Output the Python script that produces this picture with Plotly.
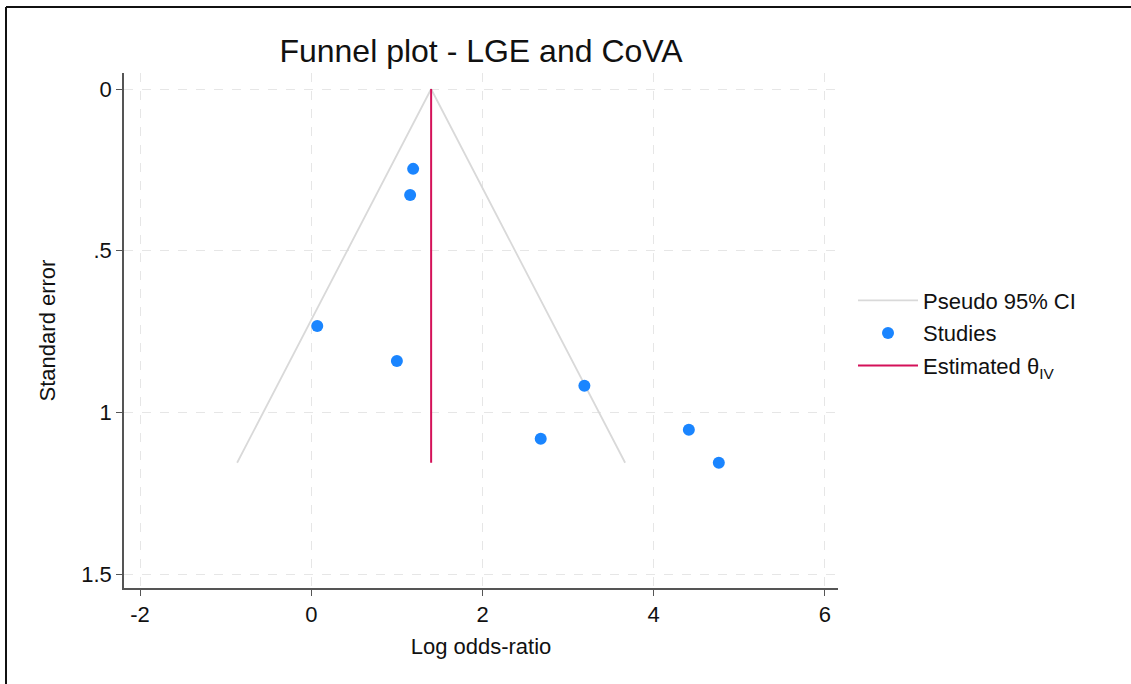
import plotly.graph_objects as go

# Data
study_logor = [1.19, 1.155, 0.07, 1.00, 3.19, 2.68, 4.41, 4.76]
study_se = [0.247, 0.328, 0.733, 0.841, 0.918, 1.082, 1.054, 1.156]
theta_iv = 1.40
se_max = 1.156
ci_se = [se_max, 0.0, se_max]
ci_x = [theta_iv - 1.96 * se_max, theta_iv, theta_iv + 1.96 * se_max]

x_ticks = [-2, 0, 2, 4, 6]
x_labels = ["-2", "0", "2", "4", "6"]
y_ticks = [0, 0.5, 1, 1.5]
y_labels = ["0", ".5", "1", "1.5"]

font = "Liberation Sans, Arial, Helvetica, sans-serif"

W, H = 1131, 684
ML, MR, MT, MB = 124, 293, 73, 96
PW, PH = W - ML - MR, H - MT - MB


def px_x(px):
    return (px - ML) / PW


def px_y(py):
    return (H - MB - py) / PH


fig = go.Figure()
fig.add_trace(go.Scatter(
    x=ci_x, y=ci_se, mode="lines", name="Pseudo 95% CI", legendgroup="a",
    line=dict(color="#d9d9d9", width=1.8),
))
fig.add_trace(go.Scatter(
    x=study_logor, y=study_se, mode="markers", name="Studies", legendgroup="b",
    marker=dict(color="#1a85ff", size=12, line=dict(width=0)),
))
fig.add_trace(go.Scatter(
    x=[theta_iv, theta_iv], y=[0, se_max], mode="lines", legendgroup="c",
    name="Estimated θ<sub>IV</sub>",
    line=dict(color="#d41159", width=2),
))

axis_common = dict(
    showline=True, linecolor="#555555", linewidth=1.5,
    ticks="outside", ticklen=6, tickcolor="#555555", tickwidth=1.2,
    showgrid=True, gridcolor="#e6e6e6", griddash="dash", gridwidth=1,
    zeroline=False, tickfont=dict(size=22, color="#111111", family=font),
)

fig.update_layout(
    width=W, height=H,
    paper_bgcolor="white", plot_bgcolor="white",
    margin=dict(l=ML, r=MR, t=MT, b=MB),
    font=dict(family=font, color="#111111"),
    title=dict(text="Funnel plot - LGE and CoVA", x=481 / W, xanchor="center",
               y=1 - 51 / H, yanchor="middle",
               font=dict(size=32, family=font, color="#111111")),
    xaxis=dict(range=[-2.187, 6.152], tickvals=x_ticks, ticktext=x_labels,
               title=dict(text="Log odds-ratio", font=dict(size=22), standoff=12),
               **axis_common),
    yaxis=dict(range=[1.5433, -0.0495], tickvals=y_ticks, ticktext=y_labels,
               title=dict(text="Standard error", font=dict(size=22), standoff=20),
               **axis_common),
    legend=dict(x=px_x(853), y=px_y(333), xanchor="left", yanchor="middle",
                font=dict(size=22, family=font, color="#111111"),
                itemwidth=60, tracegroupgap=1, bgcolor="rgba(0,0,0,0)"),
    shapes=[
        dict(type="line", xref="paper", yref="paper",
             x0=px_x(6), x1=px_x(W), y0=px_y(7), y1=px_y(7),
             line=dict(color="#111111", width=2)),
        dict(type="line", xref="paper", yref="paper",
             x0=px_x(6), x1=px_x(6), y0=px_y(H), y1=px_y(7),
             line=dict(color="#111111", width=2)),
    ],
)

fig.write_html("out.html", config={"displayModeBar": False},
               post_script="document.body.style.margin='0';")
